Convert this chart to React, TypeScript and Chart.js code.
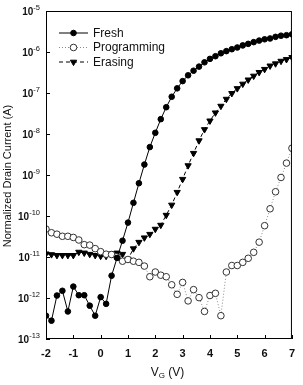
import React, { useEffect, useRef } from "react";
import { Chart, registerables } from "chart.js";

Chart.register(...registerables);

// Gate voltage sweep (V)
const GATE_VOLTAGE = [
  -2, -1.8, -1.6, -1.4, -1.2, -1, -0.8, -0.6, -0.4, -0.2,
  0, 0.2, 0.4, 0.6, 0.8, 1, 1.2, 1.4, 1.6, 1.8,
  2, 2.2, 2.4, 2.6, 2.8, 3, 3.2, 3.4, 3.6, 3.8,
  4, 4.2, 4.4, 4.6, 4.8, 5, 5.2, 5.4, 5.6, 5.8,
  6, 6.2, 6.4, 6.6, 6.8, 7,
];

// Normalized drain current (A) for each state
const FRESH = [
  3.7e-13, 2.8e-13, 1.15e-12, 1.5e-12, 4.7e-13, 1.9e-12, 1.17e-12, 1.17e-12, 6.5e-13, 3.7e-13,
  1.05e-12, 7.2e-13, 3.5e-12, 9.5e-12, 2.5e-11, 6.9e-11, 2.1e-10, 6.3e-10, 1.8e-9, 4.8e-9,
  1.07e-8, 2.3e-8, 4.5e-8, 8.1e-8, 1.3e-7, 1.95e-7, 2.7e-7, 3.5e-7, 4.4e-7, 5.6e-7,
  6.8e-7, 7.9e-7, 9.3e-7, 1.05e-6, 1.17e-6, 1.29e-6, 1.45e-6, 1.58e-6, 1.74e-6, 1.9e-6,
  2.04e-6, 2.14e-6, 2.34e-6, 2.5e-6, 2.57e-6, 2.7e-6,
];

const PROGRAMMING = [
  4.8e-11, 3.9e-11, 3.6e-11, 3.2e-11, 3.2e-11, 3.0e-11, 2.6e-11, 2.0e-11, 1.95e-11, 1.6e-11,
  1.35e-11, 1.17e-11, 1.15e-11, 1.02e-11, 7.9e-12, 8.7e-12, 7.9e-12, 7.4e-12, 6.0e-12, 3.3e-12,
  4.3e-12, 3.6e-12, 3.3e-12, 2.1e-12, 1.23e-12, 2.4e-12, 8.5e-13, 1.6e-12, 1.02e-12, 4.7e-13,
  1.15e-12, 1.3e-12, 3.7e-13, 4.3e-12, 6.2e-12, 6.2e-12, 7.4e-12, 9.3e-12, 1.3e-11, 2.3e-11,
  5.8e-11, 1.5e-10, 3.9e-10, 8.7e-10, 1.95e-9, 4.5e-9,
];

const ERASING = [
  1.2e-11, 1.15e-11, 1.1e-11, 1.1e-11, 1.1e-11, 1.1e-11, 1.32e-11, 1.26e-11, 1.17e-11, 1.1e-11,
  1.05e-11, 1.05e-11, 1.2e-11, 1.26e-11, 1.17e-11, 8.9e-12, 1.6e-11, 2.3e-11, 2.95e-11, 3.6e-11,
  4.8e-11, 6.0e-11, 1.05e-10, 1.86e-10, 3.8e-10, 7.9e-10, 1.7e-9, 3.4e-9, 6.9e-9, 1.29e-8,
  2.1e-8, 3.3e-8, 4.8e-8, 7.1e-8, 9.8e-8, 1.29e-7, 1.66e-7, 2.1e-7, 2.6e-7, 3.2e-7,
  3.8e-7, 4.6e-7, 5.2e-7, 6.0e-7, 6.6e-7, 7.4e-7,
];

const SERIES_NAMES = ["Fresh", "Programming", "Erasing"];
const X_TICKS = [-2, -1, 0, 1, 2, 3, 4, 5, 6, 7];
const Y_EXPONENTS = [-13, -12, -11, -10, -9, -8, -7, -6, -5];
const X_TITLE = { main: "V", sub: "G", rest: " (V)" };
const Y_TITLE = "Normalized Drain Current (A)";

const FONT = "Arial, 'Liberation Sans', Helvetica, sans-serif";

function drawMarker(ctx: CanvasRenderingContext2D, style: string, x: number, y: number, r: number, fill: string, stroke: string) {
  ctx.beginPath();
  if (style === "triangle") {
    // downward-pointing triangle (rotation 180)
    let rad = Math.PI;
    ctx.moveTo(x + Math.sin(rad) * r, y - Math.cos(rad) * r);
    rad += (2 * Math.PI) / 3;
    ctx.lineTo(x + Math.sin(rad) * r, y - Math.cos(rad) * r);
    rad += (2 * Math.PI) / 3;
    ctx.lineTo(x + Math.sin(rad) * r, y - Math.cos(rad) * r);
    ctx.closePath();
  } else {
    ctx.arc(x, y, r, 0, Math.PI * 2);
  }
  ctx.fillStyle = fill;
  ctx.fill();
  ctx.lineWidth = 1;
  ctx.strokeStyle = stroke;
  ctx.stroke();
}

const decorations = {
  id: "decorations",
  afterDatasetsDraw(chart: any) {
    const { ctx, chartArea: a, scales } = chart;
    const xs = scales.x;
    const ys = scales.y;
    ctx.save();

    // frame
    ctx.strokeStyle = "#000";
    ctx.lineWidth = 1;
    ctx.setLineDash([]);
    ctx.strokeRect(a.left + 0.5, a.top + 0.5, a.right - a.left - 1, a.bottom - a.top - 1);

    // inward tick marks
    ctx.beginPath();
    for (const t of X_TICKS) {
      const px = Math.round(xs.getPixelForValue(t)) + 0.5;
      ctx.moveTo(px, a.bottom);
      ctx.lineTo(px, a.bottom - 4);
    }
    for (const e of Y_EXPONENTS) {
      const py = Math.round(ys.getPixelForValue(Math.pow(10, e))) + 0.5;
      ctx.moveTo(a.left, py);
      ctx.lineTo(a.left + 4, py);
    }
    ctx.stroke();

    // y tick labels: 10 with superscript exponent
    ctx.fillStyle = "#111";
    ctx.textBaseline = "middle";
    for (const e of Y_EXPONENTS) {
      const py = ys.getPixelForValue(Math.pow(10, e));
      const expText = "-" + String(-e);
      ctx.font = `7.5px ${FONT}`;
      const ew = ctx.measureText(expText).width;
      ctx.font = `bold 10px ${FONT}`;
      const bw = ctx.measureText("10").width;
      const right = a.left - 6;
      ctx.textAlign = "left";
      ctx.fillText("10", right - ew - bw, py + 1);
      ctx.font = `7.5px ${FONT}`;
      ctx.fillText(expText, right - ew, py - 3);
    }

    // x axis title with subscript
    ctx.font = `12px ${FONT}`;
    const wMain = ctx.measureText(X_TITLE.main).width;
    const wRest = ctx.measureText(X_TITLE.rest).width;
    ctx.font = `8px ${FONT}`;
    const wSub = ctx.measureText(X_TITLE.sub).width;
    const total = wMain + wSub + wRest;
    let tx = 167.5 - total / 2;
    const ty = 373;
    ctx.textAlign = "left";
    ctx.font = `12px ${FONT}`;
    ctx.fillText(X_TITLE.main, tx, ty);
    tx += wMain;
    ctx.font = `8px ${FONT}`;
    ctx.fillText(X_TITLE.sub, tx, ty + 3);
    tx += wSub;
    ctx.font = `12px ${FONT}`;
    ctx.fillText(X_TITLE.rest, tx, ty);

    // y axis title
    ctx.save();
    ctx.translate(8, (a.top + a.bottom) / 2 + 1);
    ctx.rotate(-Math.PI / 2);
    ctx.textAlign = "center";
    ctx.font = `11px ${FONT}`;
    ctx.fillText(Y_TITLE, 0, 0);
    ctx.restore();

    // legend
    const rows = [33, 47.5, 62];
    chart.data.datasets.forEach((ds: any, i: number) => {
      const y = rows[i];
      ctx.beginPath();
      ctx.setLineDash(ds.borderDash || []);
      ctx.strokeStyle = ds.borderColor;
      ctx.lineWidth = ds.borderWidth;
      ctx.moveTo(59, y);
      ctx.lineTo(88, y);
      ctx.stroke();
      ctx.setLineDash([]);
      drawMarker(ctx, ds.pointStyle, 73.5, y, ds.pointRadius, ds.pointBackgroundColor, ds.pointBorderColor);
      ctx.fillStyle = "#111";
      ctx.font = `12px ${FONT}`;
      ctx.textAlign = "left";
      ctx.textBaseline = "middle";
      ctx.fillText(ds.label, 93, y + 0.5);
    });

    ctx.restore();
  },
};

export default function App() {
  const canvasRef = useRef<HTMLCanvasElement | null>(null);

  useEffect(() => {
    const canvas = canvasRef.current;
    if (!canvas) return;
    const points = (vals: number[]) => GATE_VOLTAGE.map((v, i) => ({ x: v, y: vals[i] }));

    const chart = new Chart(canvas, {
      type: "line",
      data: {
        datasets: [
          {
            label: SERIES_NAMES[0],
            data: points(FRESH),
            borderColor: "#000",
            borderWidth: 1,
            pointStyle: "circle",
            pointRadius: 2.8,
            pointBackgroundColor: "#000",
            pointBorderColor: "#000",
            pointBorderWidth: 1,
          },
          {
            label: SERIES_NAMES[1],
            data: points(PROGRAMMING),
            borderColor: "#8a8a8a",
            borderWidth: 1,
            borderDash: [1, 2],
            pointStyle: "circle",
            pointRadius: 3.3,
            pointBackgroundColor: "#fff",
            pointBorderColor: "#333",
            pointBorderWidth: 1,
          },
          {
            label: SERIES_NAMES[2],
            data: points(ERASING),
            borderColor: "#000",
            borderWidth: 1,
            borderDash: [4, 3],
            pointStyle: "triangle",
            rotation: 180,
            pointRotation: 180,
            pointRadius: 3.6,
            pointBackgroundColor: "#000",
            pointBorderColor: "#000",
            pointBorderWidth: 1,
          },
        ] as any,
      },
      options: {
        animation: false,
        responsive: false,
        devicePixelRatio: 1,
        layout: { padding: { left: 0, right: 7, top: 11, bottom: 0 } },
        plugins: { legend: { display: false }, tooltip: { enabled: false } },
        scales: {
          x: {
            type: "linear",
            min: -2,
            max: 7,
            afterBuildTicks: (scale: any) => {
              scale.ticks = X_TICKS.map((v) => ({ value: v }));
            },
            afterFit: (scale: any) => {
              scale.height = 46;
            },
            grid: { display: false, drawTicks: false, tickLength: 0 },
            border: { display: false },
            ticks: {
              padding: 8,
              color: "#111",
              font: { family: FONT, size: 11, weight: "bold" },
              maxRotation: 0,
            },
          },
          y: {
            type: "logarithmic",
            min: 1e-13,
            max: 1e-5,
            afterBuildTicks: (scale: any) => {
              scale.ticks = Y_EXPONENTS.map((e) => ({ value: Math.pow(10, e) }));
            },
            afterFit: (scale: any) => {
              scale.width = 46;
            },
            grid: { display: false, drawTicks: false, tickLength: 0 },
            border: { display: false },
            ticks: { display: false },
          },
        },
      } as any,
      plugins: [decorations],
    });
    return () => chart.destroy();
  }, []);

  return (
    <div style={{ position: "absolute", left: 0, top: 0, width: 303, height: 385, background: "#fff" }}>
      <canvas ref={canvasRef} width={303} height={385} style={{ display: "block", width: 303, height: 385 }} />
    </div>
  );
}
